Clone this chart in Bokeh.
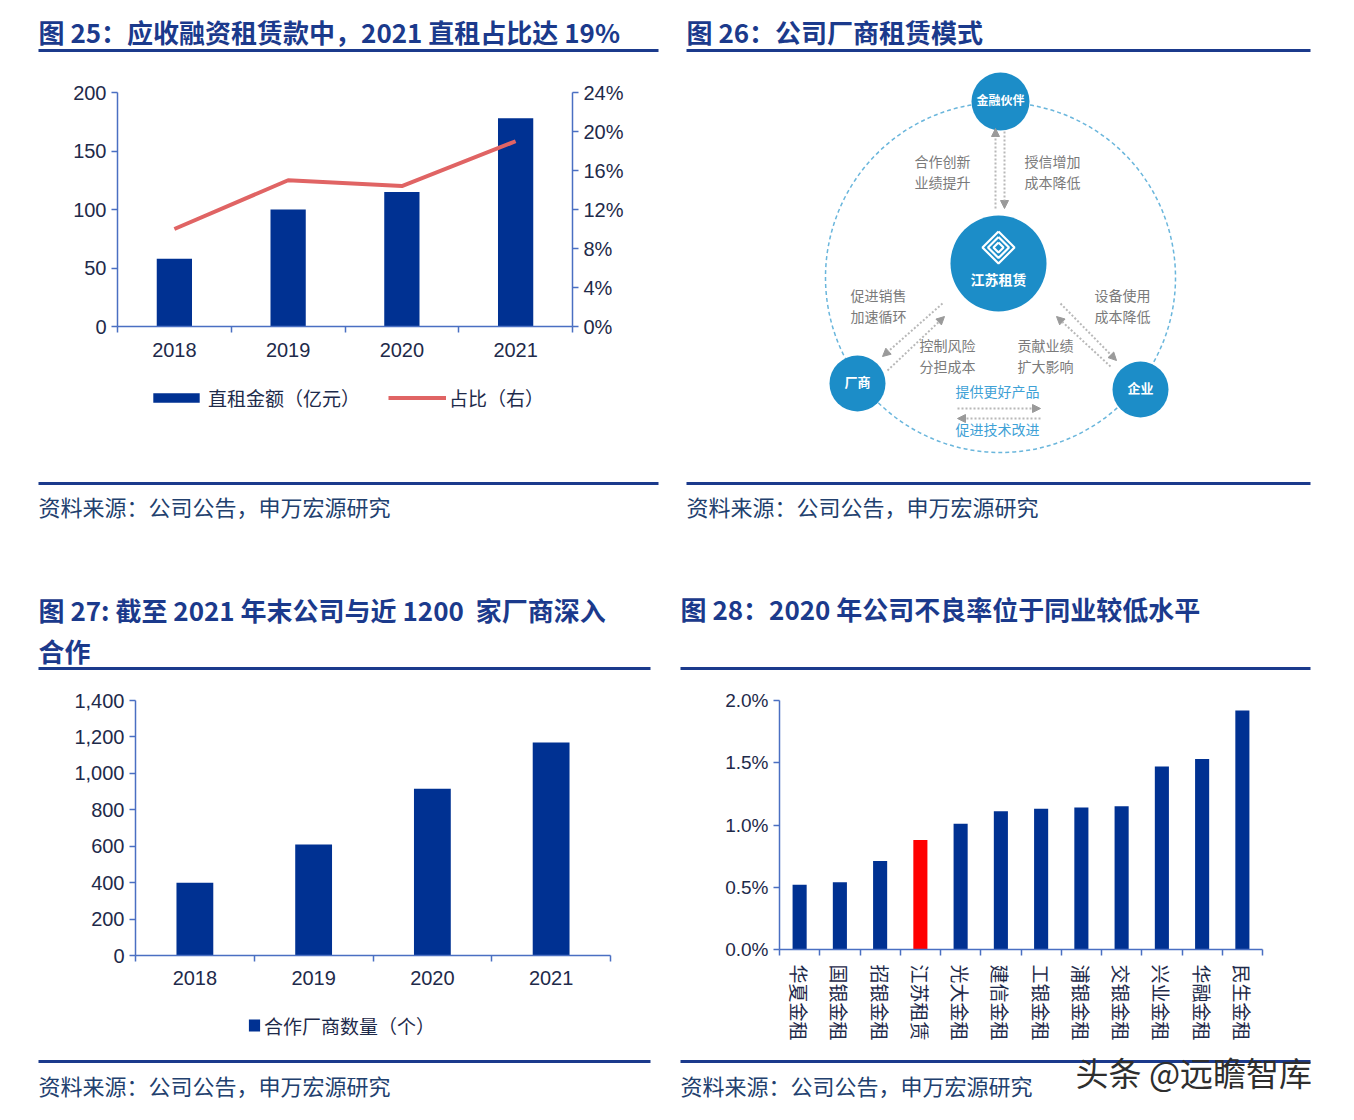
from bokeh.plotting import figure
from bokeh.models import (Range1d, LinearAxis, FixedTicker,
                          PrintfTickFormatter, NumeralTickFormatter, Legend, LegendItem,
                          Arrow, NormalHead, ColumnDataSource)
from bokeh.layouts import column, row
from bokeh.embed import file_html
from bokeh.resources import INLINE
from bokeh.core.properties import value

# ---------------- data ----------------
years = ["2018", "2019", "2020", "2021"]
direct_lease = [58, 100, 115, 178]          # 直租金额（亿元）
direct_share = [10.0, 15.0, 14.4, 19.0]     # 占比（右）, %
left_ticks_25 = [0, 50, 100, 150, 200]
share_ticks = [0, 4, 8, 12, 16, 20, 24]

vendor_years = ["2018", "2019", "2020", "2021"]
vendors = [400, 610, 915, 1170]             # 合作厂商数量（个）
vendor_ticks = [0, 200, 400, 600, 800, 1000, 1200, 1400]

peers = ["华夏金租", "国银金租", "招银金租", "江苏租赁", "光大金租", "建信金租",
         "工银金租", "浦银金租", "交银金租", "兴业金租", "华融金租", "民生金租"]
npl = [0.52, 0.54, 0.71, 0.88, 1.01, 1.11, 1.13, 1.14, 1.15, 1.47, 1.53, 1.92]   # %
npl_ticks = [0.0, 0.5, 1.0, 1.5, 2.0]
highlight = "江苏租赁"

# ---------------- style ----------------
CJK = "Noto Sans CJK SC"
LAT = "Liberation Sans"
NAVY = "#1b3a8c"
BAR = "#003192"
RED_LINE = "#e06464"
RED_BAR = "#ff0000"
AXIS = "#4a6fc2"
TICK_TXT = "#1e2a4a"
SRC = "#22406e"
NODE = "#1c8dc8"
GRAY_TXT = "#7a7a7a"
BLUE_TXT = "#3ea1d6"
TXT_DY = -2.5   # CJK glyphs sit a little low with baseline "middle"


def decor(x0, y0, w, h):
    p = figure(width=w, height=h, x_range=Range1d(x0, x0 + w), y_range=Range1d(y0 + h, y0),
               toolbar_location=None, output_backend="svg", min_border=0, frame_align=False,
               x_axis_location=None, y_axis_location=None, outline_line_color=None)
    p.grid.visible = False
    return p


def put_text(p, x, y, txt, size, color, bold=False, align="left", font=CJK):
    p.text(x=[x], y=[y + TXT_DY], text=[txt], text_font=value(font), text_font_size=value(f"{size}px"),
           text_font_style=value("bold" if bold else "normal"), text_color=color,
           text_align=align, text_baseline="middle")


def rule(p, x0, x1, y):
    p.line(x=[x0, x1], y=[y, y], line_color=NAVY, line_width=3)


def style_axis(ax, size):
    ax.axis_line_color = AXIS
    ax.axis_line_width = 1.5
    ax.major_tick_line_color = AXIS
    ax.major_tick_line_width = 1.5
    ax.major_tick_out = 6
    ax.major_tick_in = 0
    ax.minor_tick_line_color = None
    ax.major_label_text_font = LAT
    ax.major_label_text_font_size = f"{size}px"
    ax.major_label_text_color = TICK_TXT


def slot_centers(cats):
    return [i + 0.5 for i in range(len(cats))]


def chart(w, h, cats, y_range, left, right, top, bottom, label_size, standoff,
          orientation="horizontal", label_font=LAT):
    p = figure(width=w, height=h, x_range=Range1d(0, len(cats)), y_range=y_range,
               toolbar_location=None, output_backend="svg", frame_align=False,
               min_border_left=left, min_border_right=right,
               min_border_top=top, min_border_bottom=bottom,
               x_axis_location=None, outline_line_color=None)
    p.grid.visible = False
    # axis line with ticks at category boundaries (no labels)
    bax = LinearAxis(ticker=FixedTicker(ticks=list(range(len(cats) + 1))), major_label_standoff=0)
    style_axis(bax, 1)
    bax.major_label_text_color = None
    p.add_layout(bax, "below")
    # category labels at slot centres
    centers = slot_centers(cats)
    lax = LinearAxis(ticker=FixedTicker(ticks=centers),
                     major_label_overrides={c: s for c, s in zip(centers, cats)},
                     major_label_standoff=standoff, major_label_orientation=orientation)
    style_axis(lax, label_size)
    lax.major_label_text_font = label_font
    lax.axis_line_color = None
    lax.major_tick_line_color = None
    p.add_layout(lax, "below")
    return p


def legend_strip(x0, y0, w, h, entries, left, glyph_w, glyph_h, spacing, standoff):
    """A strip under a chart holding a real Legend; its swatch renderers are hidden copies."""
    p = decor(x0, y0, w, h)
    items = []
    for label, kind, color, xs, ys in entries:
        if kind == "bar":
            r = p.vbar(x=xs, top=ys, width=0.3, fill_color=color, line_color=None, visible=False)
        else:
            r = p.line(x=xs, y=ys, line_color=color, line_width=4, visible=False)
        items.append(LegendItem(label=label, renderers=[r]))
    leg = Legend(items=items, orientation="horizontal", location="left", margin=left,
                 glyph_width=glyph_w, glyph_height=glyph_h, label_standoff=standoff, spacing=spacing,
                 border_line_color=None, background_fill_alpha=0, padding=0,
                 inactive_fill_alpha=0,
                 label_text_font=CJK, label_text_font_size="19px", label_text_color=TICK_TXT)
    p.add_layout(leg)
    return p


def source_block(p, x0, x1, y_rule, y_txt):
    rule(p, x0, x1, y_rule)
    put_text(p, x0, y_txt, "资料来源：公司公告，申万宏源研究", 22, SRC)


# ================= top-left : 图25 =================
tl_top = decor(0, 0, 670, 62)
put_text(tl_top, 38, 33, "图 25：应收融资租赁款中，2021 直租占比达 19%", 26, NAVY, bold=True)
rule(tl_top, 38, 658, 50)

tl = chart(670, 314, years, Range1d(0, 200), 117, 98, 30, 50, 20, 4)
tl.yaxis.ticker = FixedTicker(ticks=left_ticks_25)
style_axis(tl.yaxis[0], 20)
tl.extra_y_ranges["pct"] = Range1d(0, 24)
rax = LinearAxis(y_range_name="pct", ticker=FixedTicker(ticks=share_ticks),
                 formatter=PrintfTickFormatter(format="%d%%"))
style_axis(rax, 20)
tl.add_layout(rax, "right")
x25 = slot_centers(years)
tl.vbar(x=x25, top=direct_lease, width=0.31, fill_color=BAR, line_color=None)
tl.line(x=x25, y=direct_share, y_range_name="pct", line_color=RED_LINE, line_width=4)

tl_leg = legend_strip(0, 376, 670, 42,
                      [("直租金额（亿元）", "bar", BAR, x25, direct_lease),
                       ("占比（右）", "line", RED_LINE, x25, direct_share)],
                      147, 58, 12, 28, 3)

tl_bot = decor(0, 418, 670, 138)
source_block(tl_bot, 38, 658, 483, 508)

# ================= top-right : 图26 diagram =================
tr = decor(670, 0, 676, 556)
put_text(tr, 686, 33, "图 26：公司厂商租赁模式", 26, NAVY, bold=True)
rule(tr, 686, 1310, 50)

tr.circle(x=[1000], y=[277], radius=175, fill_color=None, line_color="#6ab6dc",
          line_dash="4 3", line_width=1.5)

arrows = [((995, 208), (995, 128)), ((1004, 131), (1004, 208)),
          ((942, 303), (882, 356)), ((887, 370), (944, 316)),
          ((1060, 303), (1116, 360)), ((1110, 366), (1056, 316)),
          ((957, 408), (1040, 408)), ((1040, 418), (957, 418))]
for (xs, ys), (xe, ye) in arrows:
    tr.add_layout(Arrow(end=NormalHead(size=8, fill_color="#9a9a9a", line_color="#9a9a9a"),
                        x_start=xs, y_start=ys, x_end=xe, y_end=ye,
                        line_color="#b8b8b8", line_dash="2 2", line_width=2))

nodes_x = [1000, 998, 857, 1140]
nodes_y = [101, 263, 383, 389]
nodes_r = [29, 48, 28, 28]
tr.circle(x=nodes_x, y=nodes_y, radius=nodes_r, fill_color=NODE, line_color=None)

# logo (lattice diamond)
for s in (16, 10.5, 5):
    tr.line(x=[998, 998 + s, 998, 998 - s, 998], y=[247 - s, 247, 247 + s, 247, 247 - s],
            line_color="white", line_width=2.2)

put_text(tr, 1000, 101, "金融伙伴", 12, "white", bold=True, align="center")
put_text(tr, 998, 281, "江苏租赁", 14, "white", bold=True, align="center")
put_text(tr, 857, 383, "厂商", 13, "white", bold=True, align="center")
put_text(tr, 1140, 389, "企业", 13, "white", bold=True, align="center")

gray_labels = [(942, 163, "合作创新"), (942, 184, "业绩提升"),
               (1052, 163, "授信增加"), (1052, 184, "成本降低"),
               (878, 297, "促进销售"), (878, 318, "加速循环"),
               (1122, 297, "设备使用"), (1122, 318, "成本降低"),
               (947, 347, "控制风险"), (947, 368, "分担成本"),
               (1045, 347, "贡献业绩"), (1045, 368, "扩大影响")]
for gx, gy, gt in gray_labels:
    put_text(tr, gx, gy, gt, 14, GRAY_TXT, align="center")
put_text(tr, 997, 393, "提供更好产品", 14, BLUE_TXT, align="center")
put_text(tr, 997, 431, "促进技术改进", 14, BLUE_TXT, align="center")

source_block(tr, 686, 1310, 483, 508)

# ================= bottom-left : 图27 =================
bl_top = decor(0, 556, 670, 124)
put_text(bl_top, 38, 611, "图 27: 截至 2021 年末公司与近 1200\u00a0 家厂商深入", 26, NAVY, bold=True)
put_text(bl_top, 38, 652, "合作", 26, NAVY, bold=True)
rule(bl_top, 38, 650, 668)

bl = chart(670, 325, vendor_years, Range1d(0, 1400), 135, 60, 20, 50, 20, 3)
bl.yaxis.ticker = FixedTicker(ticks=vendor_ticks)
bl.yaxis.formatter = NumeralTickFormatter(format="0,0")
style_axis(bl.yaxis[0], 20)
x27 = slot_centers(vendor_years)
bl.vbar(x=x27, top=vendors, width=0.31, fill_color=BAR, line_color=None)

bl_leg = legend_strip(0, 1005, 670, 40, [("合作厂商数量（个）", "bar", BAR, x27, vendors)],
                      247, 14, 15, 0, 3)

bl_bot = decor(0, 1045, 670, 67)
source_block(bl_bot, 38, 650, 1061, 1087)

# ================= bottom-right : 图28 =================
br_top = decor(670, 556, 676, 124)
put_text(br_top, 680, 610, "图 28：2020 年公司不良率位于同业较低水平", 26, NAVY, bold=True)
rule(br_top, 680, 1310, 668)

br = chart(676, 365, peers, Range1d(0, 2.0), 109, 84, 20, 96, 19, 3,
           orientation="vertical", label_font=CJK)
br.yaxis.ticker = FixedTicker(ticks=npl_ticks)
br.yaxis.formatter = PrintfTickFormatter(format="%.1f%%")
style_axis(br.yaxis[0], 19)
npl_src = ColumnDataSource(dict(x=slot_centers(peers), peer=peers, npl=npl,
                                color=[RED_BAR if q == highlight else BAR for q in peers]))
br.vbar(x="x", top="npl", width=0.35, fill_color="color", line_color=None, source=npl_src)

br_bot = decor(670, 1045, 676, 67)
source_block(br_bot, 680, 1310, 1061, 1087)
br_bot.text(x=[1075], y=[1071], text=["头条 @远瞻智库"], text_font=value(CJK),
            text_font_size=value("33px"), text_color="#2e2e2e", text_align="left",
            text_baseline="middle")

layout = column(row(column(tl_top, tl, tl_leg, tl_bot), tr),
                row(column(bl_top, bl, bl_leg, bl_bot), column(br_top, br, br_bot)))

open("out.html", "w").write(file_html(layout, INLINE))
